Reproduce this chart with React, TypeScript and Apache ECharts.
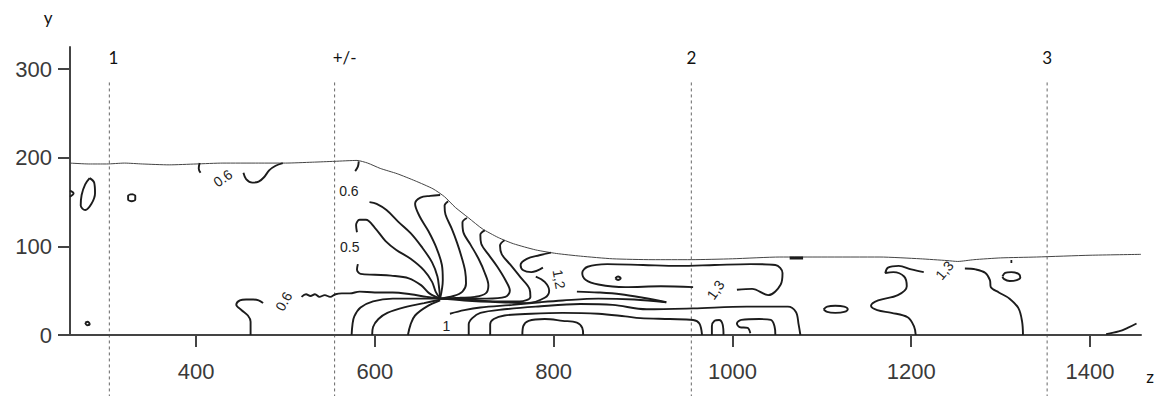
import React, { useEffect, useRef } from "react";
import * as echarts from "echarts";

// ---- axes ----
const xTicks = [400, 600, 800, 1000, 1200, 1400];
const yTicks = [0, 100, 200, 300];
const zMin = 259;
const zMax = 1457;
const yMax = 325;

// ---- measuring sections (dashed verticals) ----
const sectionNames = ["1", "+/-", "2", "3"];
const sectionZ = [303, 555, 954, 1352];
const sectionTopY = 285;

// ---- free surface ----
const surface = [
  [259, 194], [280, 193], [300, 193], [320, 194], [340, 193], [370, 192], [400, 193], [430, 194],
  [470, 194], [500, 194], [530, 195], [555, 196], [580, 197], [592, 194], [606, 188], [625, 182],
  [645, 174], [665, 165], [678, 156], [690, 144], [705, 132], [720, 120], [738, 110], [755, 103],
  [780, 96], [803, 92], [830, 89], [866, 86], [910, 85], [954, 85], [1000, 86], [1053, 88],
  [1100, 88], [1165, 88], [1210, 86], [1240, 84], [1252, 83], [1270, 85], [1300, 87], [1340, 88],
  [1400, 90], [1457, 91],
];

// ---- contour lines (z, y) ----
const leftEdgeBump = [[259, 163], [263, 160], [259, 156]];
const leftLoop = [[281, 177], [286, 172], [287, 160], [283, 148], [276, 141], [271, 146], [272, 158], [276, 170], [281, 177]];
const leftCircle = [[328, 159], [332, 157], [332, 153], [328, 151], [324, 153], [324, 157], [328, 159]];
const leftDot = [[276, 14], [279, 15], [281, 12], [278, 11], [276, 14]];
const hookA = [[404, 194], [403, 188], [405, 183]];
const hookB = [[453, 183], [456, 176], [463, 172], [470, 173], [476, 178], [482, 186], [489, 191], [497, 194]];
const hookC = [[582, 196], [581, 190], [578, 185]];
const lowLoop06 = [[475, 36], [470, 39], [464, 40], [456, 40], [449, 39], [445, 34], [451, 28], [458, 22], [461, 15], [461, 0]];
const wavy06 = [[518, 43], [523, 46], [528, 44], [533, 46], [538, 43], [544, 45], [550, 43], [556, 46], [563, 47], [572, 47], [583, 49], [600, 48], [620, 48], [640, 46], [658, 43], [673, 41]];
const fan05 = [[581, 80], [580, 74], [584, 69], [600, 68], [618, 67], [638, 64], [652, 56], [661, 47], [673, 41]];
const fanL3 = [[580, 116], [579, 124], [583, 130], [590, 130], [600, 121], [612, 106], [624, 96], [640, 86], [655, 73], [664, 60], [668, 49], [673, 41]];
const fanLB = [[594, 150], [602, 148], [613, 141], [626, 128], [640, 115], [652, 100], [664, 82], [670, 66], [672, 52], [673, 41]];
const fanLC = [[673, 158], [662, 157], [651, 155], [645, 148], [650, 134], [660, 117], [669, 98], [675, 79], [676, 62], [673, 41]];
const fanD = [[682, 151], [678, 146], [679, 136], [686, 120], [692, 104], [697, 88], [701, 72], [702, 58], [698, 49], [688, 44], [673, 41]];
const fanE = [[703, 132], [698, 127], [699, 116], [707, 102], [716, 86], [723, 70], [727, 56], [724, 47], [712, 43], [695, 42], [673, 41]];
const fanF = [[723, 118], [718, 113], [719, 103], [727, 91], [737, 77], [746, 62], [751, 50], [746, 43], [725, 41], [700, 41], [673, 41]];
const fanG = [[745, 107], [740, 101], [742, 91], [751, 80], [763, 65], [773, 52], [774, 43], [762, 38], [735, 38], [705, 40], [673, 41]];
const hookH = [[797, 93], [784, 90], [770, 86], [763, 79], [766, 73], [775, 71], [788, 76]];
const fanI = [[780, 66], [790, 60], [795, 50], [790, 42], [770, 36], [740, 37], [700, 39], [673, 41]];
const under1 = [[574, 0], [575, 12], [577, 21], [584, 31], [598, 38], [620, 41], [645, 41], [673, 41]];
const under2 = [[597, 0], [598, 9], [604, 18], [614, 25], [636, 32], [655, 36], [673, 40]];
const under3 = [[637, 0], [640, 12], [645, 22], [658, 32], [673, 39]];
const spikeLow = [[684, 24], [700, 28], [718, 31], [754, 34], [785, 37], [810, 39], [850, 41], [890, 40], [926, 37]];
const spikeHigh = [[826, 49], [850, 48], [875, 46], [900, 42], [926, 37]];
const lineK = [[705, 0], [705, 12], [709, 19], [718, 25], [745, 29], [780, 32], [830, 35], [866, 34], [904, 29], [956, 30], [1016, 32], [1062, 32], [1071, 26], [1074, 12], [1076, 0]];
const lineL = [[729, 0], [729, 12], [733, 18], [745, 22], [775, 24], [810, 25], [850, 24], [880, 21], [897, 19], [930, 18], [956, 17], [963, 13], [966, 0]];
const bumpM = [[765, 0], [766, 10], [772, 16], [790, 18], [810, 16], [826, 14], [832, 8], [833, 0]];
const arch = [[977, 0], [977, 10], [980, 16], [985, 17], [989, 12], [990, 0]];
const fiveShape = [[1020, 2], [1017, 8], [1008, 9], [1005, 13], [1010, 17], [1030, 18], [1043, 17], [1047, 10], [1048, 0]];
const bigLoop13 = [[956, 54], [920, 55], [880, 54], [850, 57], [836, 62], [832, 70], [838, 77], [860, 80], [900, 79], [940, 78], [980, 79], [1020, 80], [1048, 79], [1056, 70], [1054, 57], [1040, 45], [1022, 52], [1005, 51]];
const innerDot = [[869, 64], [872, 66], [875, 64], [872, 62], [869, 64]];
const surfaceDash = [[1064, 87], [1079, 87]];
const ellipseR = [[1102, 29], [1106, 32], [1115, 33], [1125, 32], [1129, 29], [1125, 26], [1115, 25], [1106, 26], [1102, 29]];
const sCurve1 = [[1205, 0], [1203, 10], [1196, 20], [1178, 25], [1162, 28], [1155, 33], [1163, 39], [1185, 45], [1195, 55], [1192, 66], [1180, 71], [1171, 70], [1174, 76], [1186, 78], [1200, 74], [1214, 71]];
const sCurve2 = [[1260, 75], [1272, 74], [1283, 70], [1288, 62], [1289, 54], [1298, 48], [1310, 41], [1320, 30], [1324, 15], [1325, 0]];
const smallLoopR = [[1302, 66], [1305, 70], [1312, 71], [1320, 69], [1322, 65], [1318, 62], [1310, 61], [1304, 63], [1302, 66]];
const dotR = [[1311, 83], [1313, 83]];
const cornerR = [[1418, 1], [1432, 4], [1442, 8], [1452, 13]];

const contours = [
  leftEdgeBump, leftLoop, leftCircle, leftDot, hookA, hookB, hookC, lowLoop06, wavy06,
  fan05, fanL3, fanLB, fanLC, fanD, fanE, fanF, fanG, hookH, fanI, under1, under2, under3,
  spikeLow, spikeHigh, lineK, lineL, bumpM, arch, fiveShape, bigLoop13, innerDot, surfaceDash,
  ellipseR, sCurve1, sCurve2, smallLoopR, dotR, cornerR,
];

// ---- contour value labels ----
const labelTexts = ["0.6", "0.6", "0.5", "0.6", "1", "1,2", "1,3", "1,3"];
const labelZ = [430, 571, 572, 498, 680, 806, 981, 1237];
const labelY = [177, 163, 99, 38, 10, 63, 51, 73];
const labelAngle = [35, 0, 0, 60, 0, -80, 55, 50];

export default function App() {
  const ref = useRef<HTMLDivElement>(null);
  useEffect(() => {
    const chart = echarts.init(ref.current!, null, { renderer: "svg" });
    const series: any[] = [
      {
        type: "line",
        data: surface,
        showSymbol: false,
        symbol: "none",
        smooth: 0.2,
        silent: true,
        lineStyle: { color: "#444", width: 1 },
        z: 2,
      },
      ...contours.map((c) => ({
        type: "line",
        data: c,
        showSymbol: false,
        symbol: "none",
        smooth: 0.35,
        silent: true,
        lineStyle: { color: "#1c1c1c", width: c.length === 2 ? 3 : 1.9 },
        z: 3,
      })),
    ];
    const axisColor = "#444";
    const fmt = (v: number) => String(v);
    chart.setOption({
      animation: false,
      backgroundColor: "#fff",
      grid: { left: 70, right: 17, top: 47, bottom: 61 },
      xAxis: {
        type: "value",
        min: zMin,
        max: zMax,
        splitLine: { show: false },
        axisLine: { show: true, onZero: false, lineStyle: { color: axisColor, width: 2 } },
        axisTick: { show: true, length: 12, customValues: xTicks, lineStyle: { color: axisColor, width: 2 } },
        axisLabel: {
          customValues: xTicks,
          formatter: fmt,
          fontSize: 22,
          color: "#3a3a3a",
          fontFamily: "Liberation Sans",
          margin: 25,
        },
      },
      yAxis: {
        type: "value",
        min: 0,
        max: yMax,
        splitLine: { show: false },
        axisLine: { show: true, onZero: false, lineStyle: { color: axisColor, width: 2 } },
        axisTick: { show: true, length: 12, customValues: yTicks, lineStyle: { color: axisColor, width: 2 } },
        axisLabel: {
          customValues: yTicks,
          formatter: fmt,
          fontSize: 22,
          color: "#3a3a3a",
          fontFamily: "Liberation Sans",
          margin: 18,
        },
      },
      series,
    });

    const toPx = (z: number, y: number) =>
      chart.convertToPixel({ xAxisIndex: 0, yAxisIndex: 0 }, [z, y]) as number[];
    const graphic: any[] = [];
    const sectionDx = [4, 10, 0, 0];
    sectionZ.forEach((z, i) => {
      const p = toPx(z, sectionTopY);
      graphic.push({
        type: "line",
        silent: true,
        shape: { x1: p[0], y1: p[1], x2: p[0], y2: 396 },
        style: { stroke: "#666", lineWidth: 1, lineDash: [3, 3] },
      });
      graphic.push({
        type: "text",
        x: p[0] + sectionDx[i],
        y: 57,
        style: {
          text: sectionNames[i],
          fill: "#111",
          font: "17px Lato",
          align: "center",
          verticalAlign: "middle",
          textAlign: "center",
          textVerticalAlign: "middle",
        },
      });
    });
    labelTexts.forEach((t, i) => {
      const p = toPx(labelZ[i], labelY[i]);
      graphic.push({
        type: "text",
        x: p[0],
        y: p[1],
        rotation: (labelAngle[i] * Math.PI) / 180,
        style: {
          text: t,
          fill: "#222",
          font: "14px 'Liberation Sans'",
          align: "center",
          verticalAlign: "middle",
          textAlign: "center",
          textVerticalAlign: "middle",
        },
      });
    });
    graphic.push({
      type: "text",
      x: 48,
      y: 17,
      style: { text: "y", fill: "#111", font: "17px Lato", align: "center", verticalAlign: "middle", textAlign: "center", textVerticalAlign: "middle" },
    });
    graphic.push({
      type: "text",
      x: 1150,
      y: 376,
      style: { text: "z", fill: "#111", font: "17px Lato", align: "center", verticalAlign: "middle", textAlign: "center", textVerticalAlign: "middle" },
    });
    chart.setOption({ graphic });
    return () => chart.dispose();
  }, []);
  return (
    <div
      ref={ref}
      style={{ position: "fixed", left: 0, top: 0, width: 1158, height: 396, background: "#fff" }}
    />
  );
}
